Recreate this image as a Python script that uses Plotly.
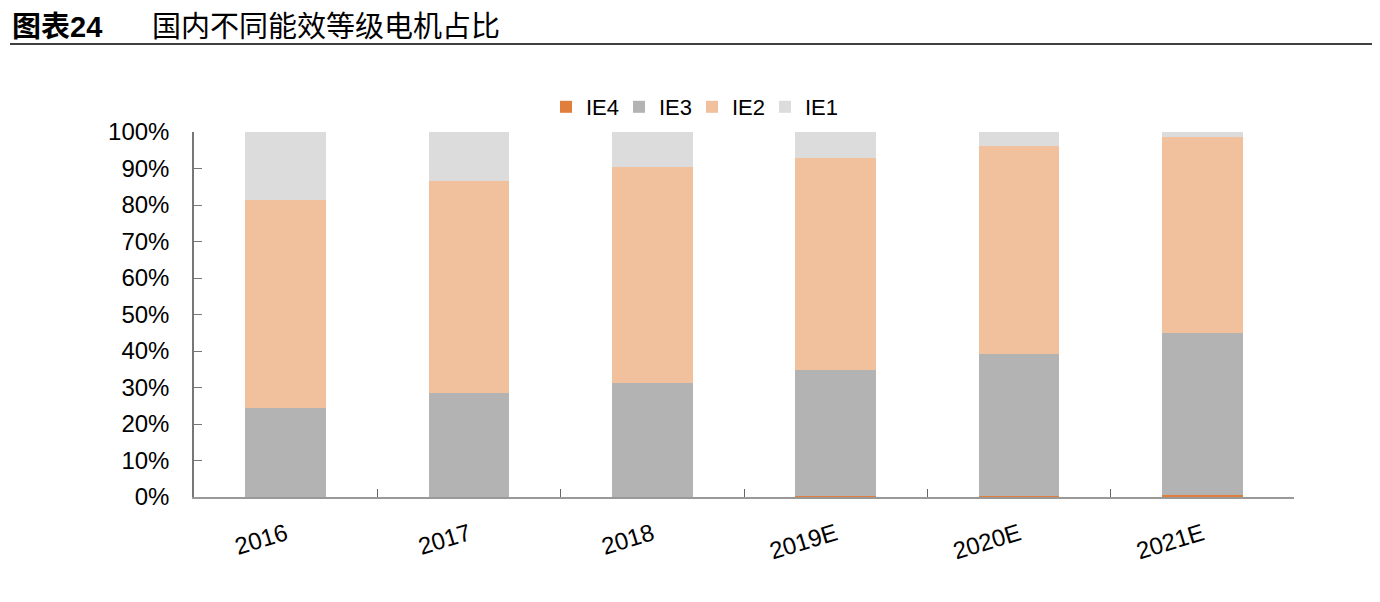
import plotly.graph_objects as go

# Data (%)
years = ["2016", "2017", "2018", "2019E", "2020E", "2021E"]
ie4 = [0.1, 0.1, 0.1, 0.2, 0.3, 0.5]
ie3 = [24.4, 28.3, 31.1, 34.6, 38.9, 44.3]
ie2 = [56.9, 58.2, 59.1, 58.0, 57.0, 53.8]
ie1 = [18.6, 13.4, 9.7, 7.2, 3.8, 1.4]

series = [
    ("IE4", ie4, "#E07E3C"),
    ("IE3", ie3, "#B3B3B3"),
    ("IE2", ie2, "#F0C19C"),
    ("IE1", ie1, "#DCDCDC"),
]

font_main = "Liberation Sans, Arial, Noto Sans CJK SC, sans-serif"

# figure size in px (page body has an 8px margin)
W, H = 1372, 594
L, R, T, B = 186, 86, 124, 105
PW, PH = W - L - R, H - T - B


def px_x(x):
    return (x - L) / PW


def px_y(y):
    return 1 + (T - y) / PH


fig = go.Figure()
for name, vals, color in series:
    fig.add_trace(go.Bar(
        x=years, y=vals, name=name,
        marker=dict(color=color, line=dict(width=0)),
    ))

fig.update_layout(
    barmode="stack",
    bargap=0.56,
    width=W, height=H,
    margin=dict(l=L, r=R, t=T, b=B),
    paper_bgcolor="white",
    plot_bgcolor="white",
    font=dict(family=font_main, size=24, color="black"),
    showlegend=True,
    legend=dict(
        orientation="h", x=px_x(684), xanchor="center", y=px_y(99), yanchor="middle",
        font=dict(size=22), traceorder="normal", itemwidth=30,
        entrywidth=28, entrywidthmode="pixels",
        bgcolor="rgba(0,0,0,0)",
    ),
    xaxis=dict(
        type="category",
        showline=True, linecolor="#999999", linewidth=2,
        ticks="inside", tickson="boundaries", ticklen=8, tickcolor="#666666",
        tickangle=-17, ticklabelstandoff=12,
        tickfont=dict(size=24),
        showgrid=False,
    ),
    yaxis=dict(
        range=[0, 100], dtick=10, ticksuffix="%",
        showline=True, linecolor="#777777", linewidth=1.5,
        ticks="inside", ticklen=8, tickcolor="#777777",
        ticklabelstandoff=18,
        tickfont=dict(size=24),
        showgrid=False, zeroline=False,
    ),
)

# Title block
title_font = "Liberation Sans, Noto Sans CJK SC, sans-serif"
fig.add_annotation(
    xref="paper", yref="paper", x=px_x(2), y=px_y(19),
    xanchor="left", yanchor="middle", showarrow=False,
    text="<b>图表24</b>",
    font=dict(family=title_font, size=29, color="black"),
)
fig.add_annotation(
    xref="paper", yref="paper", x=px_x(142), y=px_y(19),
    xanchor="left", yanchor="middle", showarrow=False,
    text="国内不同能效等级电机占比",
    font=dict(family=title_font, size=29, color="black"),
)
fig.add_shape(
    type="line", xref="paper", yref="paper",
    x0=px_x(2), x1=px_x(1364), y0=px_y(36), y1=px_y(36),
    line=dict(color="black", width=1.5),
)

fig.write_html("out.html")
